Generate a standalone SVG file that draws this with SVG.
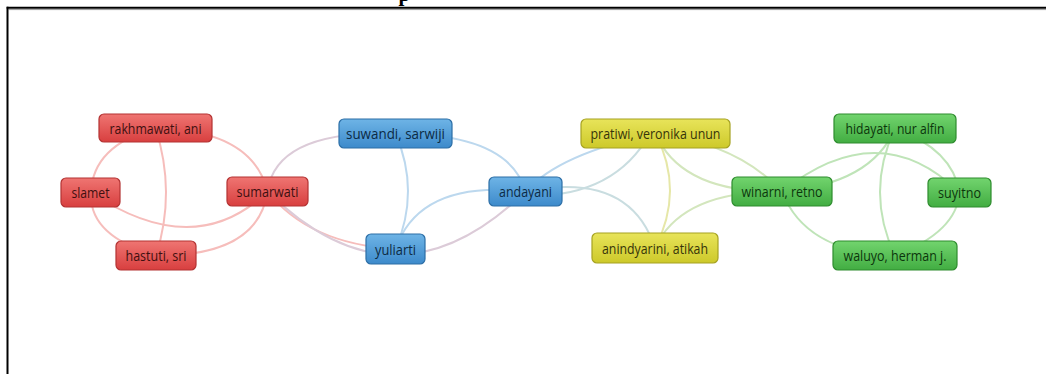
<svg xmlns="http://www.w3.org/2000/svg" width="1046" height="374" viewBox="0 0 1046 374">
<defs>
<linearGradient id="gr" x1="0" y1="0" x2="0" y2="1"><stop offset="0" stop-color="#ef7572"/><stop offset="1" stop-color="#d83f3f"/></linearGradient>
<linearGradient id="gb" x1="0" y1="0" x2="0" y2="1"><stop offset="0" stop-color="#6eb4e6"/><stop offset="1" stop-color="#3d8acb"/></linearGradient>
<linearGradient id="gy" x1="0" y1="0" x2="0" y2="1"><stop offset="0" stop-color="#e8e45a"/><stop offset="1" stop-color="#cdc92a"/></linearGradient>
<linearGradient id="gg" x1="0" y1="0" x2="0" y2="1"><stop offset="0" stop-color="#72d46e"/><stop offset="1" stop-color="#42ad42"/></linearGradient>
</defs>
<style>
.e{fill:none;stroke-width:2}
.er{stroke:#f6bdbb}
.eb{stroke:#bcd8ee}
.ey{stroke:#e6e7a8}
.eg{stroke:#bfe4b8}
.erb{stroke:#dccbd8}
.eby{stroke:#c9dde0}
.eyg{stroke:#d3e6bd}
.n rect{stroke-width:1.2}
.r rect{fill:url(#gr);stroke:#b33232}
.b rect{fill:url(#gb);stroke:#2c6ea6}
.y rect{fill:url(#gy);stroke:#a6a222}
.g rect{fill:url(#gg);stroke:#2e8c2e}
.n text{font-family:"Open Sans","DejaVu Sans",sans-serif;font-size:15px;text-anchor:middle}
.r text{fill:#3e1010}
.b text{fill:#0c2a44}
.y text{fill:#36340a}
.g text{fill:#0c360c}
</style>
<rect x="0" y="0" width="1046" height="374" fill="#ffffff"/>
<text x="398.5" y="0.5" font-family="Liberation Serif,serif" font-size="21" font-weight="bold" fill="#000">p</text>
<g id="frame">
<line x1="6.7" y1="7.7" x2="1046" y2="7.7" stroke="#000" stroke-width="2"/>
<line x1="8.5" y1="9.6" x2="1046" y2="9.6" stroke="#9a9a9a" stroke-width="1"/>
<line x1="7.5" y1="6.7" x2="7.5" y2="374" stroke="#000" stroke-width="2"/>
</g>
<g id="connectors">
<path class="e er" d="M155.5,128 Q92.75,145.75 91,192.5"/>
<path class="e er" d="M91,192.5 Q88.5,236 156,255.5"/>
<path class="e er" d="M155.5,128 Q176.25,192.25 156,255.5"/>
<path class="e er" d="M155.5,128 Q252.5,130.25 267.5,191.5"/>
<path class="e er" d="M91,192.5 Q194.75,262 267.5,191.5"/>
<path class="e er" d="M156,255.5 Q258.25,256.5 267.5,191.5"/>
<path class="e erb" d="M267.5,191.5 Q276,130 395.5,133.5"/>
<path class="e er" d="M267.5,191.5 Q308.5,243.75 395.5,249"/>
<path class="e erb" d="M267.5,191.5 Q395.5,318 525.5,191.5"/>
<path class="e eb" d="M395.5,133.5 Q420.5,191.25 395.5,249"/>
<path class="e eb" d="M395.5,133.5 Q509.5,133.5 525.5,191.5"/>
<path class="e eb" d="M395.5,249 Q419.5,179.75 525.5,191.5"/>
<path class="e eb" d="M525.5,191.5 Q559.5,153.5 655.5,133.5"/>
<path class="e eby" d="M525.5,196 Q614,198 650,133.5"/>
<path class="e eby" d="M525.5,191.5 Q629.75,170.25 655,248"/>
<path class="e ey" d="M655.5,133.5 Q684.75,190.75 655,248"/>
<path class="e eyg" d="M655.5,133.5 Q681.25,193.5 782,191.5"/>
<path class="e eyg" d="M655,248 Q681.5,190.25 782,191.5"/>
<path class="e eyg" d="M655.5,133.5 Q737.25,143.5 782,191.5"/>
<path class="e eg" d="M782,191.5 Q805.5,252.5 895,255.5"/>
<path class="e eg" d="M782,191.5 Q871.5,184 895,128.5"/>
<path class="e eg" d="M782,191.5 Q879.25,114 959.5,192.5"/>
<path class="e eg" d="M895,128.5 Q865,192 895,255.5"/>
<path class="e eg" d="M895,128.5 Q952.75,149.5 959.5,192.5"/>
<path class="e eg" d="M959.5,192.5 Q956.75,232 895,255.5"/>
</g>
<g id="rakhmawati" class="n r"><rect x="99" y="114" width="113" height="28" rx="5"/><text x="155.5" y="133.5" textLength="92" lengthAdjust="spacingAndGlyphs">rakhmawati, ani</text></g>
<g id="slamet" class="n r"><rect x="61" y="178" width="59" height="29" rx="5"/><text x="90.5" y="198" textLength="38" lengthAdjust="spacingAndGlyphs">slamet</text></g>
<g id="sumarwati" class="n r"><rect x="227" y="177" width="81" height="29" rx="5"/><text x="267.5" y="197" textLength="62" lengthAdjust="spacingAndGlyphs">sumarwati</text></g>
<g id="hastuti" class="n r"><rect x="116" y="241" width="80" height="29" rx="5"/><text x="156" y="261" textLength="61" lengthAdjust="spacingAndGlyphs">hastuti, sri</text></g>
<g id="suwandi" class="n b"><rect x="339" y="119" width="113" height="29" rx="5"/><text x="395.5" y="139" textLength="99" lengthAdjust="spacingAndGlyphs">suwandi, sarwiji</text></g>
<g id="andayani" class="n b"><rect x="489" y="177" width="73" height="29" rx="5"/><text x="525.5" y="197" textLength="53" lengthAdjust="spacingAndGlyphs">andayani</text></g>
<g id="yuliarti" class="n b"><rect x="366" y="234" width="59" height="30" rx="5"/><text x="395.5" y="254.5" textLength="41" lengthAdjust="spacingAndGlyphs">yuliarti</text></g>
<g id="pratiwi" class="n y"><rect x="581" y="119" width="149" height="29" rx="5"/><text x="655.5" y="139" textLength="130" lengthAdjust="spacingAndGlyphs">pratiwi, veronika unun</text></g>
<g id="anindyarini" class="n y"><rect x="592" y="233" width="126" height="30" rx="5"/><text x="655" y="253.5" textLength="106" lengthAdjust="spacingAndGlyphs">anindyarini, atikah</text></g>
<g id="winarni" class="n g"><rect x="732" y="177" width="100" height="29" rx="5"/><text x="782" y="197" textLength="81" lengthAdjust="spacingAndGlyphs">winarni, retno</text></g>
<g id="hidayati" class="n g"><rect x="834" y="114" width="122" height="29" rx="5"/><text x="895" y="134" textLength="99" lengthAdjust="spacingAndGlyphs">hidayati, nur alfin</text></g>
<g id="suyitno" class="n g"><rect x="928" y="178" width="63" height="29" rx="5"/><text x="959.5" y="198" textLength="43" lengthAdjust="spacingAndGlyphs">suyitno</text></g>
<g id="waluyo" class="n g"><rect x="833" y="241" width="124" height="29" rx="5"/><text x="895" y="261" textLength="103" lengthAdjust="spacingAndGlyphs">waluyo, herman j.</text></g>
</svg>
